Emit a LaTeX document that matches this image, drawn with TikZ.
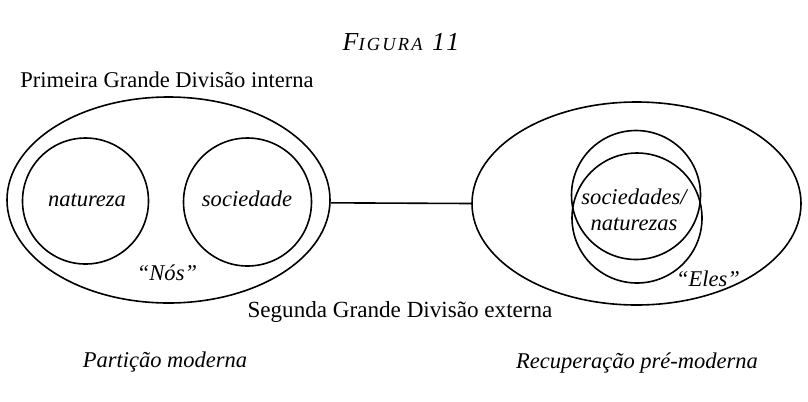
\documentclass[tikz,border=0pt]{standalone}
\usepackage{fontspec}
\setmainfont{Liberation Serif}
\usetikzlibrary{shapes.geometric}
\begin{document}
\begin{tikzpicture}[x=1bp,y=-1bp,
  line width=1.6bp,
  txt/.style={font=\fontsize{22.6}{26}\selectfont, inner sep=0pt},
  itxt/.style={font=\fontsize{22.6}{26}\selectfont\itshape, inner sep=0pt, align=center},
  bigell/.style={draw, ellipse, inner sep=0pt},
  circ/.style={draw, circle, inner sep=0pt}]
\useasboundingbox (0,0) rectangle (808,401);
% title
\node[inner sep=0pt, font=\itshape\addfontfeature{LetterSpace=12}] (title) at (401,42)
  {\fontsize{26}{30}\selectfont F\fontsize{18.5}{30}\selectfont IGURA\fontsize{26}{30}\selectfont\ 11};
\node[txt] (first) at (167,80) {Primeira Grande Divisão interna};
% left group
\node[bigell, minimum width=323bp, minimum height=206bp] (lell) at (168.5,200) {};
\node[circ, minimum size=126bp] (nat) at (85.5,201) {};
\node[circ, minimum size=128bp] (soc) at (247.5,202) {};
\node[itxt, anchor=base] (natlab) at (87,206.5) {natureza};
\node[itxt, anchor=base] (soclab) at (247,206.5) {sociedade};
\node[itxt] (nos) at (167,273) {“Nós”};
% right group
\node[bigell, minimum width=329bp, minimum height=203bp] (rell) at (636.5,203.5) {};
\node[circ, minimum size=129bp] (ca) at (636,195) {};
\node[circ, minimum size=130bp] (cb) at (637,218) {};
\node[itxt] (socnat) at (634,210) {sociedades/\\naturezas};
\node[itxt] (eles) at (708,279) {“Eles”};
% connector
\draw (lell.-1.2) -- (rell.west);
% bottom labels
\node[txt, font=\fontsize{23.2}{26}\selectfont] (second) at (400,312) {Segunda Grande Divisão externa};
\node[itxt] (part) at (165,362) {Partição moderna};
\node[itxt] (recup) at (637,363) {Recuperação pré-moderna};
\end{tikzpicture}
\end{document}
